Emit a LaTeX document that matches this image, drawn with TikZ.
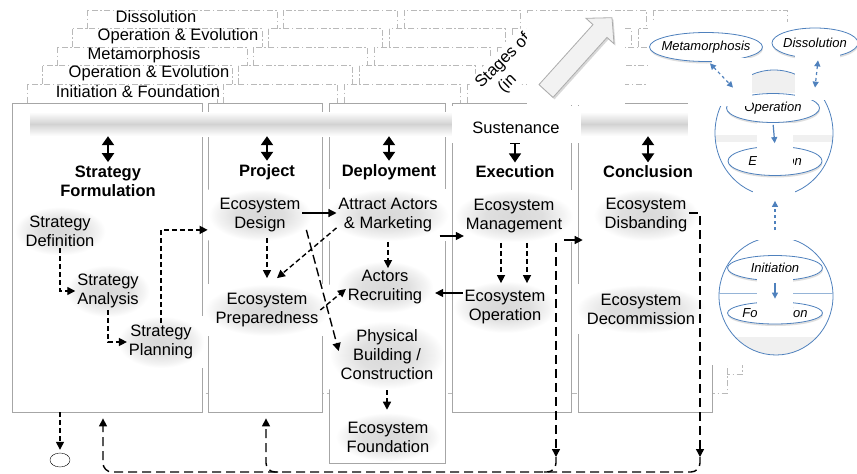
\documentclass[tikz,border=0pt]{standalone}
\usepackage{fontspec}
\setmainfont{Liberation Sans}
\usetikzlibrary{arrows.meta,shapes.geometric,shadows}
\pgfdeclareradialshading{glow}{\pgfpoint{0bp}{0bp}}{color(0bp)=(gray!30); color(12bp)=(gray!25); color(21bp)=(gray!9); color(25bp)=(white); color(50bp)=(white)}
\definecolor{diagblue}{RGB}{79,129,189}
\newcommand{\ztext}[1]{\makebox[0pt]{#1}}

\begin{document}
\begin{tikzpicture}[x=1pt,y=-1pt,
	every node/.style={font=\fontsize{16.5}{19}\selectfont},
	col/.style={draw=gray!70,fill=white,line width=0.8pt,inner sep=0pt},
	layer/.style={draw=gray!55,fill=white,line width=0.8pt,dash pattern=on 6pt off 2.5pt on 1.5pt off 2.5pt},
	txt/.style={align=center,inner xsep=11pt,inner ysep=9pt,outer xsep=-9pt,outer ysep=-7pt,shade,shading=glow},
	head/.style={align=center,font=\fontsize{16.5}{19}\selectfont\bfseries},
	tip/.style={-{Triangle[width=8pt,length=8pt]}},
	dsh/.style={tip,line width=1.4pt,dash pattern=on 5pt off 3pt},
	lng/.style={line width=1.4pt,dash pattern=on 9pt off 5pt},
	sol/.style={tip,line width=1.2pt},
	dbl/.style={{Triangle[width=12pt,length=9pt]}-{Triangle[width=12pt,length=9pt]},line width=2.2pt},
	bar/.style={{Bar[width=10pt,line width=1.2pt]}-{Triangle[width=12pt,length=9pt]},line width=1.6pt},
	oval/.style={ellipse,draw=diagblue,fill=white,line width=0.8pt,inner sep=0pt,
		font=\fontsize{13}{15}\selectfont\itshape,
		drop shadow={opacity=0.25,shadow xshift=0.5pt,shadow yshift=-2pt}},
	bsol/.style={diagblue,line width=1.2pt,-{Triangle[width=6pt,length=6pt]}},
	bdsh/.style={bsol,dashed},
	bdbl/.style={diagblue,line width=1.2pt,dashed,{Triangle[width=6pt,length=6pt]}-{Triangle[width=6pt,length=6pt]}}]
	\useasboundingbox (0,0) rectangle (857,474);

	\foreach \k in {5,4,3,2,1}{
		\begin{scope}[shift={(15*\k,-18.6*\k)}]
			\foreach \a/\b in {12/202,208/322,329/445,452/571,578/712}
				\filldraw[layer] (\a,103) rectangle (\b,412);
		\end{scope}
	}
	\node (lab5) at (156,17) {Dissolution};
	\node (lab4) at (178,36) {Operation \& Evolution};
	\node (lab3) at (144,55) {Metamorphosis};
	\node (lab2) at (149,73) {Operation \& Evolution};
	\node (lab1) at (138,92) {Initiation \& Foundation};
	\node[rotate=45,fill=white,align=left,anchor=north west,inner sep=3pt,minimum width=80] (stages) at (467,82) {Stages of\\\hspace*{13pt}(in};

	\node[col,minimum width=190,minimum height=309] (c1) at (107,257.5) {};
	\node[col,minimum width=114,minimum height=309] (c2) at (265,257.5) {};
	\node[col,minimum width=116,minimum height=360] (c3) at (387,283) {};
	\node[col,minimum width=119,minimum height=309] (c4) at (511.5,257.5) {};
	\node[col,minimum width=134,minimum height=309] (c5) at (645,257.5) {};

	\node[shade,top color=white,bottom color=white,middle color=gray!35,minimum width=660,minimum height=24,inner sep=0pt] (band) at (360,124) {};
	\fill[white] (527,13) rectangle (625,104.5);
	\fill[white] (648,22) rectangle (857,101);
	\fill[white] (688,101) rectangle (857,365);
	\filldraw[fill=gray!10,draw=gray!65,line width=0.8pt,drop shadow={opacity=0.3,shadow xshift=1.5pt,shadow yshift=-2pt}]
		(539,84.6) -- (593,24.6) -- (586,18.3) -- (612,17.7) -- (614,43.7) -- (607,37.4) -- (553,97.4) -- cycle;
	\node[fill=white,minimum width=129,text height=23pt,text depth=4pt,inner ysep=5pt,anchor=base] (sust) at (516,133.8) {Sustenance};

	\node[head] (strat) at (108,181) {Strategy\\Formulation};
	\node[head] (proj) at (267,172) {Project};
	\node[head] (depl) at (389,172) {Deployment};
	\node[head] (exe) at (515,172) {Execution};
	\node[head] (concl) at (648,172) {Conclusion};
	\foreach \h in {strat,proj,depl,concl}
		\draw[dbl] (band.south -| \h.north) -- (\h.north);
	\draw[bar] (sust.south -| exe.north) -- (exe.north);

	\node[txt] (def) at (60,231) {Strategy\\Definition};
	\node[txt] (ana) at (108,291) {Strategy\\Analysis};
	\node[txt] (plan) at (161,342) {Strategy\\Planning};
	\node[txt] (design) at (260,215) {Ecosystem\\Design};
	\node[txt] (prep) at (267,310) {Ecosystem\\Preparedness};
	\node[txt] (attract) at (388,215) {Attract Actors\\\& Marketing};
	\node[txt] (recr) at (385,287) {Actors\\Recruiting};
	\node[txt] (phys) at (387,355) {Physical\\Building /\\Construction};
	\node[txt] (found) at (388,437) {Ecosystem\\Foundation};
	\node[txt] (mgmt) at (514,216) {Ecosystem\\Management};
	\node[txt] (oper) at (505,307) {Ecosystem\\Operation};
	\node[txt] (disb) at (646,215) {Ecosystem\\Disbanding};
	\node[txt] (decom) at (641,309) {Ecosystem\\Decommission};
	\node[draw,ellipse,minimum width=20,minimum height=14,inner sep=0pt] (endn) at (60,460) {};

	\draw[dsh] (def.south) |- (ana.west);
	\draw[dsh] (ana.south) |- (plan.west);
	\draw[dsh] (plan.north) |- ([xshift=-10pt,yshift=4pt]design.south west);
	\draw[sol] ([yshift=2pt]design.east) -- ([yshift=2pt]design.east -| attract.west);
	\draw[dsh] ([xshift=7pt,yshift=-4pt]design.south) -- ([yshift=13pt]prep.north);
	\draw[dsh] ([yshift=6pt]attract.south west) -- ([xshift=10pt,yshift=13pt]prep.north);
	\draw[tip,line width=1.4pt,dash pattern=on 9pt off 4pt] ([xshift=4pt,yshift=4pt]design.south east) -- ([yshift=4pt]phys.west);
	\draw[dsh] ([yshift=-8pt]attract.south) -- (attract.south |- recr.north);
	\draw[dsh] ([yshift=-8pt]phys.south) -- ([yshift=10pt]phys.south |- found.north);
	\draw[sol] ([yshift=-21pt]attract.east) -- ([yshift=-21pt]attract.east -| mgmt.west);
	\draw[sol] ([yshift=14pt]oper.west) -- ([xshift=11pt,yshift=14pt]oper.west -| recr.east);
	\draw[dsh] (prep.east) -- ([yshift=-2pt]recr.west);
	\draw[dsh,shorten >=5pt] ([xshift=-13pt,yshift=-8pt]mgmt.south) -- ([xshift=-13pt]mgmt.south |- oper.north);
	\draw[dsh,shorten >=5pt] ([xshift=13pt,yshift=-8pt]mgmt.south) -- ([xshift=13pt]mgmt.south |- oper.north);
	\draw[sol] ([yshift=-24pt]mgmt.east) -- ([xshift=-20pt,yshift=-24pt]mgmt.east -| disb.west);
	\draw[dsh,shorten >=3pt] (endn |- c1.south) -- (endn.north);

	\begin{scope}
		\clip (774,133) ellipse (59 and 63);
		\fill[gray!12] (700,60) rectangle (850,93);
		\fill[gray!12] (700,135) rectangle (850,142);
	\end{scope}
	\draw[diagblue,line width=0.8pt] (774,133) ellipse (59 and 63);
	\begin{scope}
		\clip (776,296) ellipse (57 and 59);
		\fill[gray!12] (700,337) rectangle (850,360);
	\end{scope}
	\draw[diagblue,line width=0.8pt] (776,296) ellipse (57 and 59);
	\draw[diagblue!60,line width=0.5pt] (719,293) -- (833,293);
	\node[oval,minimum width=113,minimum height=29] (meta) at (706,47) {\ztext{Metamorphosis}};
	\node[oval,minimum width=86,minimum height=30] (diss) at (815,43) {\ztext{Dissolution}};
	\node[oval,minimum width=93,minimum height=29] (oprn) at (773,108) {\ztext{Operation}};
	\node[oval,minimum width=94,minimum height=29] (evol) at (775,161) {\ztext{Evolution}};
	\node[oval,minimum width=95,minimum height=25] (init) at (775,268) {\ztext{Initiation}};
	\node[oval,minimum width=95,minimum height=22] (fndn) at (775,313) {\ztext{Foundation}};
	\fill[white] (712,58) rectangle (752,106);
	\fill[white] (795,52) rectangle (840,100);
	\fill[white] (757,123) rectangle (793,168);
	\fill[white] (753,178) rectangle (795,240);
	\fill[white] (757,272) rectangle (793,318);
	\draw[bsol,shorten <=2pt,shorten >=3pt] (oprn.south) -- (evol.north);
	\draw[bdsh,shorten <=25pt,shorten >=25pt] (init.north) -- (evol.south);
	\draw[bsol,shorten <=2pt,shorten >=3pt] (init.south) -- (fndn.north);
	\draw[bdbl] ([xshift=4pt,yshift=-1.5pt]meta.south) -- ([xshift=-40pt,yshift=5.5pt]oprn.north);
	\draw[bdbl] ([xshift=3pt,yshift=-2pt]diss.south) -- ([xshift=42pt,yshift=5.5pt]oprn.north);

	\coordinate (jr) at (700,472);
	\coordinate (jm) at (556,472);
	\coordinate (jp) at (266,472);
	\coordinate (jl) at (103,472);
	\draw[lng,tip] ([yshift=2pt]disb.east) -| ([yshift=15pt]jr);
	\draw[lng,tip] ([xshift=42pt,yshift=-8pt]mgmt.south) -- ([yshift=15pt]jm);
	\draw[lng,tip,rounded corners=9pt,shorten >=6pt] ([yshift=15pt]jr) -- (jr) -- (jl) -- (jl |- c1.south);
	\draw[lng,rounded corners=9pt] ([yshift=15pt]jm) -- (jm) -- ([xshift=-12pt]jm);
	\draw[lng,tip,rounded corners=9pt,shorten >=6pt] ([xshift=12pt]jp) -- (jp) -- (jp |- c2.south);
\end{tikzpicture}
\end{document}
